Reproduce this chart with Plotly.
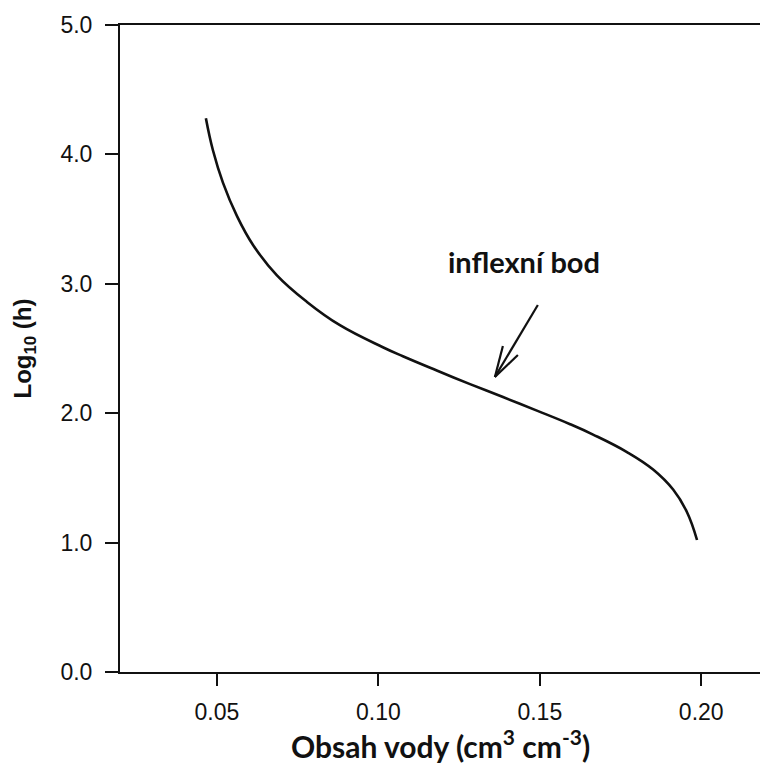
import plotly.graph_objects as go

# Water retention curve: volumetric water content vs. log10 of suction head
water_content = [0.0466, 0.0488, 0.0519, 0.0562, 0.0612, 0.0686, 0.0779, 0.0881,
                 0.1014, 0.1076, 0.1181, 0.1284, 0.1386, 0.1491, 0.1594, 0.1665,
                 0.1770, 0.1851, 0.1913, 0.1956, 0.1987]
log_h = [4.28, 4.03, 3.78, 3.525, 3.30, 3.065, 2.86, 2.68,
         2.51, 2.44, 2.33, 2.225, 2.125, 2.02, 1.915, 1.835,
         1.70, 1.565, 1.41, 1.235, 1.02]

x_ticks = [0.05, 0.10, 0.15, 0.20]
x_tick_labels = ["0.05", "0.10", "0.15", "0.20"]
y_ticks = [0, 1, 2, 3, 4, 5]
y_tick_labels = ["0.0", "1.0", "2.0", "3.0", "4.0", "5.0"]

# annotation: label position, arrow tail and arrow head (data units)
label_text = "inflexní bod"
label_pos = (0.1450, 3.17)
arrow_tail = (0.1494, 2.836)
arrow_head = (0.1361, 2.280)

x_title = "Obsah vody (cm<sup>3</sup> cm<sup>-3</sup>)"
y_title = "Log<sub>10</sub> (h)"

ink = "#111111"
tick_font = dict(family="Liberation Sans, Arial, sans-serif", size=23, color=ink)

fig = go.Figure()
fig.add_trace(go.Scatter(
    x=water_content, y=log_h, mode="lines",
    line=dict(color=ink, width=2.6, shape="spline", smoothing=1.2),
    hoverinfo="skip", showlegend=False,
))

fig.update_xaxes(
    range=[0.02, 0.2182], tickvals=x_ticks, ticktext=x_tick_labels,
    showgrid=False, zeroline=False, showline=True, linecolor=ink, linewidth=2,
    mirror=True, ticks="outside", ticklen=12, tickwidth=2, tickcolor=ink,
    tickfont=tick_font, ticklabelstandoff=6,
)
fig.update_yaxes(
    range=[0, 5], tickvals=y_ticks, ticktext=y_tick_labels,
    showgrid=False, zeroline=False, showline=True, linecolor=ink, linewidth=2,
    ticks="outside", ticklen=13, tickwidth=2, tickcolor=ink,
    tickfont=tick_font, ticklabelstandoff=8,
)

# arrow shaft and open V head (barbs sized in pixels around the head)
fig.add_shape(type="line", xref="x", yref="y",
              x0=arrow_tail[0], y0=arrow_tail[1], x1=arrow_head[0], y1=arrow_head[1],
              line=dict(color=ink, width=2.2))
for dx, dy in [(8, 31), (23, 22)]:
    fig.add_shape(type="line", xref="x", yref="y",
                  xsizemode="pixel", ysizemode="pixel",
                  xanchor=arrow_head[0], yanchor=arrow_head[1],
                  x0=0, y0=0, x1=dx, y1=dy,
                  line=dict(color=ink, width=2.2))

fig.add_annotation(
    x=label_pos[0], y=label_pos[1], xref="x", yref="y", text=f"<b>{label_text}</b>",
    showarrow=False, xanchor="center", yanchor="middle",
    font=dict(family="Lato, Open Sans, sans-serif", size=29, color=ink),
)
fig.add_annotation(
    x=0.5, y=0, xref="paper", yref="paper", yshift=-72, text=f"<b>{x_title}</b>",
    showarrow=False, xanchor="center", yanchor="middle",
    font=dict(family="Lato, Open Sans, sans-serif", size=30, color=ink),
)
fig.add_annotation(
    x=0, y=0.5, xref="paper", yref="paper", xshift=-96, text=f"<b>{y_title}</b>",
    showarrow=False, xanchor="center", yanchor="middle", textangle=-90,
    font=dict(family="Liberation Sans, Arial, sans-serif", size=24, color=ink),
)

fig.update_layout(
    width=760, height=767,
    margin=dict(l=120, r=0, t=25, b=95),
    paper_bgcolor="white", plot_bgcolor="white",
)

fig.write_html("out.html")
